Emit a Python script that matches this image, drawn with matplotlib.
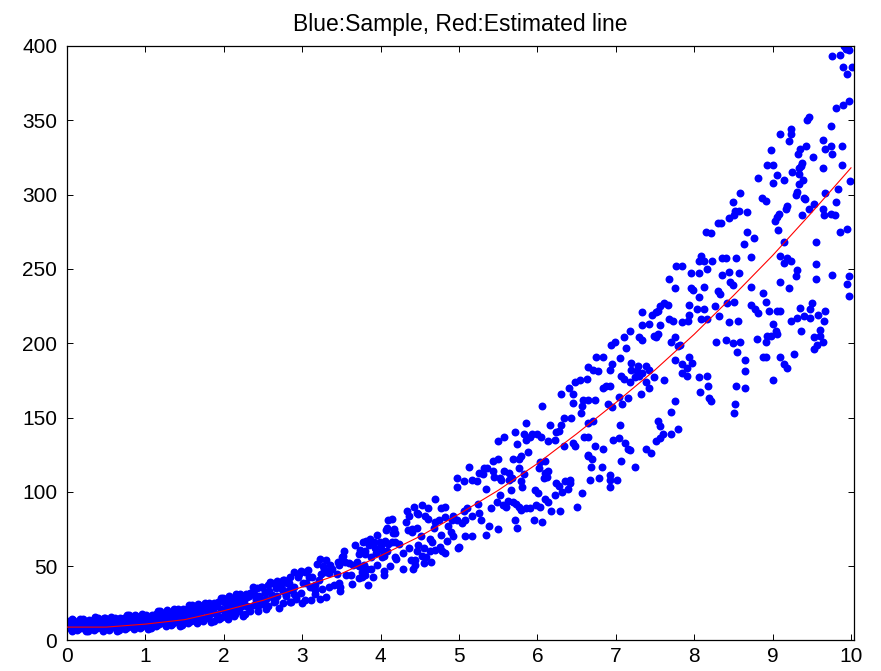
import matplotlib
matplotlib.use("Agg")
import matplotlib.pyplot as plt

# ---------------- data ----------------
# Estimated (red) line
line_x = [0, 0.5, 1, 1.5, 2, 2.5, 3, 3.5, 4, 4.5, 5, 5.5, 6, 6.5, 7, 7.5, 8, 8.5, 9, 9.5, 10]
line_y = [9, 9, 11, 14, 20, 27, 36, 45, 57, 70, 85, 101, 119, 139, 160, 182, 206, 232, 259, 288, 318]

# Samples, x 0 - 2.32 (dense band)
blob1_x = [0.00, 0.02, 0.04, 0.06, 0.08, 0.10, 0.12, 0.14, 0.16, 0.18, 0.20, 0.22, 0.24, 0.26, 0.28, 0.30,
           0.32, 0.34, 0.36, 0.38, 0.40, 0.42, 0.44, 0.46, 0.48, 0.50, 0.52, 0.54, 0.56, 0.58, 0.60, 0.62,
           0.64, 0.66, 0.68, 0.70, 0.72, 0.74, 0.76, 0.78, 0.80, 0.82, 0.84, 0.86, 0.88, 0.90, 0.92, 0.94,
           0.96, 0.98, 1.00, 1.02, 1.04, 1.06, 1.08, 1.10, 1.12, 1.14, 1.16, 1.18, 1.20, 1.22, 1.24, 1.26,
           1.28, 1.30, 1.32, 1.34, 1.36, 1.38, 1.40, 1.42, 1.44, 1.46, 1.48, 1.50, 1.52, 1.54, 1.56, 1.58,
           1.60, 1.62, 1.64, 1.66, 1.68, 1.70, 1.72, 1.74, 1.76, 1.78, 1.80, 1.82, 1.84, 1.86, 1.88, 1.90,
           1.92, 1.94, 1.96, 1.98, 2.00, 2.02, 2.04, 2.06, 2.08, 2.10, 2.12, 2.14, 2.16, 2.18, 2.20, 2.22,
           2.24, 2.26, 2.28, 2.30, 2.32]
blob1_y = [13.1, 8.8, 10.9, 6.7, 14.1, 9.7, 11.9, 7.5, 14.7, 10.7, 8.5, 13.0, 6.2, 11.7, 14.0, 9.4,
           12.6, 7.1, 15.5, 8.1, 13.7, 9.0, 11.4, 6.7, 14.8, 10.0, 12.5, 7.8, 15.6, 11.3, 8.9, 14.0,
           6.7, 12.6, 15.2, 10.3, 13.9, 8.0, 17.1, 9.0, 15.3, 10.3, 12.9, 7.8, 16.7, 11.6, 14.3, 9.1,
           17.5, 12.9, 10.3, 15.9, 8.0, 14.6, 17.4, 12.1, 16.1, 9.7, 19.7, 11.0, 17.8, 12.3, 15.4, 9.8,
           19.7, 14.0, 17.1, 11.2, 21.1, 15.7, 12.7, 19.0, 9.8, 17.5, 20.9, 14.5, 19.3, 11.6, 23.7, 13.1,
           21.5, 14.9, 18.5, 11.6, 23.7, 16.9, 20.7, 13.7, 25.4, 19.0, 15.5, 23.1, 12.1, 21.2, 25.3, 17.8,
           23.4, 14.2, 28.5, 16.0, 25.8, 18.1, 22.5, 14.7, 28.9, 21.1, 25.5, 17.5, 31.1, 24.0, 20.1, 28.8,
           16.6, 27.0, 31.6, 23.4, 29.7]

blob2_x = [0.01, 0.03, 0.05, 0.07, 0.09, 0.11, 0.13, 0.15, 0.17, 0.19, 0.21, 0.23, 0.25, 0.27, 0.29, 0.31,
           0.33, 0.35, 0.37, 0.39, 0.41, 0.43, 0.45, 0.47, 0.49, 0.51, 0.53, 0.55, 0.57, 0.59, 0.61, 0.63,
           0.65, 0.67, 0.69, 0.71, 0.73, 0.75, 0.77, 0.79, 0.81, 0.83, 0.85, 0.87, 0.89, 0.91, 0.93, 0.95,
           0.97, 0.99, 1.01, 1.03, 1.05, 1.07, 1.09, 1.11, 1.13, 1.15, 1.17, 1.19, 1.21, 1.23, 1.25, 1.27,
           1.29, 1.31, 1.33, 1.35, 1.37, 1.39, 1.41, 1.43, 1.45, 1.47, 1.49, 1.51, 1.53, 1.55, 1.57, 1.59,
           1.61, 1.63, 1.65, 1.67, 1.69, 1.71, 1.73, 1.75, 1.77, 1.79, 1.81, 1.83, 1.85, 1.87, 1.89, 1.91,
           1.93, 1.95, 1.97, 1.99, 2.01, 2.03, 2.05, 2.07, 2.09, 2.11, 2.13, 2.15, 2.17, 2.19, 2.21, 2.23,
           2.25, 2.27, 2.29, 2.31]
blob2_y = [10.1, 12.7, 7.9, 14.5, 9.3, 11.5, 7.1, 13.3, 8.5, 12.0, 14.3, 9.8, 10.8, 6.7, 12.6, 9.0,
           14.0, 7.6, 11.3, 15.4, 10.4, 13.3, 8.1, 15.3, 9.6, 12.0, 7.3, 14.1, 8.9, 12.9, 15.3, 10.5,
           11.6, 7.2, 13.8, 9.8, 15.4, 8.5, 12.6, 17.0, 11.7, 14.9, 9.3, 17.1, 11.0, 13.6, 8.5, 15.9,
           10.3, 14.6, 17.3, 12.1, 13.4, 8.7, 15.9, 11.6, 17.8, 10.3, 14.8, 19.6, 14.0, 17.5, 11.4, 20.2,
           13.4, 16.5, 10.7, 19.1, 12.6, 17.6, 20.9, 14.7, 16.1, 10.5, 19.0, 14.0, 21.4, 12.2, 17.8, 23.7,
           16.8, 21.1, 13.6, 24.3, 16.1, 19.8, 12.9, 23.2, 15.3, 21.3, 25.2, 18.0, 19.7, 12.9, 23.1, 17.1,
           25.9, 15.0, 21.5, 28.5, 20.4, 25.5, 17.0, 29.6, 20.0, 24.5, 16.6, 28.5, 19.7, 26.6, 31.1, 23.1,
           25.1, 17.9, 29.2, 22.8]

# Samples, x 2.3 - 4.9
mid1_x = [2.35, 2.38, 2.41, 2.44, 2.47, 2.50, 2.53, 2.56, 2.59, 2.62, 2.65, 2.68, 2.71, 2.74, 2.77, 2.80,
          2.83, 2.86, 2.89, 2.92, 2.95, 2.98, 3.01, 3.04, 3.07, 3.10, 3.13, 3.16, 3.19, 3.22, 3.25, 3.28,
          3.31, 3.34,
          4.69, 4.43, 4.53, 4.61, 4.34, 4.36, 4.46, 4.57, 4.10, 4.15, 4.70, 4.82,
          3.96, 4.07, 4.17, 4.19, 4.35, 4.40, 4.46, 3.81, 3.77, 3.87, 3.85, 3.99, 4.06, 4.10, 4.15, 3.93,
          4.02, 4.19, 4.28, 3.74, 3.72, 3.80, 3.94, 4.63, 4.65, 4.77, 4.85,
          3.23, 3.30, 3.53, 3.51, 3.46, 3.55, 3.65, 3.70, 4.02, 4.05, 4.08, 4.18, 4.48, 4.46, 4.53, 4.39,
          4.41, 4.58, 4.63, 4.70, 4.78, 4.55, 4.44,
          3.27, 3.34, 3.24, 3.31, 3.38, 3.47, 3.79, 3.83, 3.88, 3.90, 3.76, 3.80, 3.62, 3.72, 4.05,
          2.98, 2.96, 2.85, 3.04, 3.09, 3.05, 3.17, 3.15, 3.23, 3.11, 3.00, 3.34, 3.47, 3.48,
          2.37, 2.43, 2.49, 2.56, 2.62, 2.68, 2.75, 2.81, 2.73, 2.66, 2.58, 2.52, 2.45, 2.39, 2.33, 2.54,
          2.62, 2.68, 2.75, 2.83, 2.90, 2.79, 2.85, 2.75, 2.64, 2.53, 2.45, 2.54, 2.33, 2.41, 2.90, 2.92,
          3.17]
mid1_y = [32.2, 23.6, 28.6, 19.7, 36.1, 27.1, 32.4, 23.1, 39.3, 30.9, 26.3, 37.0, 22.0, 34.9, 40.7, 30.6,
          38.6, 26.0, 46.3, 29.0, 43.0, 32.1, 38.4, 27.1, 47.5, 36.2, 42.7, 31.1, 51.2, 40.6, 34.8, 47.8,
          29.3, 45.1,
          95, 90, 91, 89, 87, 84, 86, 84, 81, 82, 80, 83,
          71, 74, 75, 72, 74, 75, 76, 67, 66, 68, 64, 66, 67, 65, 66, 62,
          61, 66, 59, 61, 58, 58, 59, 68, 66, 71, 67,
          55, 54, 60, 56, 53, 53, 51, 53, 56, 57, 60, 56, 64, 60, 57, 54,
          48, 56, 60, 61, 60, 52, 51,
          50, 47, 45, 46, 48, 51, 51, 48, 48, 43, 46, 44, 44, 42, 47,
          47, 45, 43, 46, 43, 39, 37, 35, 28, 27, 25, 36, 39, 36,
          36, 35, 36, 37, 39, 40, 41, 39, 38, 35, 33, 32, 30, 31, 32, 28,
          29, 30, 33, 34, 36, 30, 26, 25, 26, 24, 24, 21, 20, 27, 31, 28,
          34]

# Samples, x 3.36 - 4.68 (extra layer of the band)
mid3_x = [3.36, 3.40, 3.44, 3.48, 3.52, 3.56, 3.60, 3.64, 3.68, 3.72, 3.76, 3.80, 3.84, 3.88, 3.92, 3.96,
          4.00, 4.04, 4.08, 4.12, 4.16, 4.20, 4.24, 4.28, 4.32, 4.36, 4.40, 4.44, 4.48, 4.52, 4.56, 4.60,
          4.64, 4.68]
mid3_y = [51, 37, 45, 33, 57, 44, 52, 38, 64, 50, 43, 60, 37, 56, 66, 51,
          64, 44, 76, 50, 72, 55, 65, 48, 80, 62, 73, 54, 85, 70, 62, 82,
          53, 76]

# Samples, x 4.7 - 6.7
mid2_x = [6.48, 6.54, 6.30, 6.40, 6.46, 6.46, 6.58, 6.57, 6.06, 6.63,
          6.34, 6.43, 6.55, 5.85, 6.16, 6.30, 6.27, 6.24, 5.57, 5.71, 5.83, 5.86, 5.90, 5.93, 6.00, 6.04,
          6.13, 6.22, 5.74, 5.50,
          5.88, 6.34, 6.46, 6.48, 6.60, 6.64,
          5.13, 5.32, 5.43, 5.50, 5.69, 5.77, 5.79, 5.36, 5.43, 5.45, 5.31, 5.25, 5.52, 5.57, 5.64, 5.77,
          5.83, 6.02, 6.03, 6.10, 6.10, 6.14, 6.09, 6.12, 6.64,
          4.97, 5.06, 5.16, 5.23, 4.97, 5.35, 5.54, 5.64, 5.68, 5.79, 5.81, 5.66,
          6.24, 6.35, 6.41, 6.41, 6.27, 6.39, 6.32, 6.57, 6.22, 6.10, 6.13, 6.01, 5.97, 5.98, 6.03, 6.18,
          6.29, 6.50,
          5.52, 5.62, 5.69, 5.73, 5.77, 5.79, 5.86, 5.90, 5.49, 5.56, 5.60, 5.41, 5.24, 5.25, 5.10, 5.06,
          4.93, 4.82, 4.77, 4.74,
          5.16, 5.28, 5.38, 5.50, 5.72, 5.74, 5.96, 6.06,
          4.86, 4.91, 4.97, 5.04, 5.08, 4.90, 4.93, 5.08, 5.16, 5.34, 5.00, 4.99, 4.82, 4.76]
mid2_y = [174, 175, 166, 170, 166, 160, 162, 158, 158, 176,
          150, 150, 153, 146, 145, 145, 141, 140, 137, 140, 139, 135, 137, 139, 139, 137,
          134, 135, 132, 134,
          127, 131, 133, 131, 137, 137,
          117, 116, 121, 122, 122, 122, 124, 116, 114, 110, 112, 113, 109, 114, 113, 116,
          112, 116, 120, 121, 113, 114, 109, 110, 125,
          109, 107, 108, 107, 103, 102, 108, 108, 109, 107, 103, 101,
          106, 107, 108, 106, 104, 102, 100, 99, 98, 95, 93, 99, 101, 91, 90, 87,
          87, 90,
          98, 94, 93, 92, 90, 88, 89, 89, 93, 91, 90, 89, 92, 86, 89, 87,
          84, 90, 89, 81,
          84, 81, 77, 75, 81, 76, 81, 80,
          77, 81, 81, 79, 81, 73, 70, 70, 70, 71, 63, 62, 59, 63]

# Samples, x 6.6 - 8.0
hi1_x = [7.77, 7.84, 7.96, 7.68, 7.75, 7.96, 7.99,
         7.61, 7.66, 7.57, 7.94, 7.33, 7.46, 7.51, 7.54, 7.94, 7.68, 7.73, 7.84, 7.92,
         7.18, 7.10, 7.34, 7.43, 7.57, 7.49, 7.54, 7.51, 7.30, 7.33, 7.71, 7.76, 7.82, 7.79,
         6.99, 6.94, 7.13, 6.75, 6.84, 7.06, 7.76, 7.94, 7.97, 7.85, 7.91, 7.84, 7.91,
         6.65, 6.71, 6.77, 6.95, 6.93, 7.20, 7.28, 7.19, 7.27, 7.39, 7.43, 7.34, 7.25, 7.29, 7.07, 7.11,
         7.49, 7.61, 7.18, 7.38, 7.42, 6.84, 6.88, 6.93,
         7.32, 7.04, 7.15, 7.08, 6.90, 6.95, 6.65, 6.73, 7.75, 7.71,
         6.71, 6.65, 7.06, 7.54, 7.57, 7.79, 7.71, 7.60, 7.56, 7.51, 6.96, 7.04, 7.12, 7.15, 7.18, 6.73,
         6.84, 7.39, 7.45,
         6.65, 6.70, 7.07, 7.24, 6.82, 6.69, 6.92, 6.92, 7.01, 6.78, 6.67, 6.92]
hi1_y = [252, 252, 247, 243, 237, 237, 236,
         227, 226, 225, 226, 221, 219, 221, 222, 219, 216, 215, 214, 215,
         208, 204, 212, 213, 212, 205, 206, 204, 204, 202, 201, 204, 199, 198,
         201, 199, 197, 191, 191, 190, 189, 191, 187, 186, 183, 180, 178,
         184, 182, 181, 186, 182, 187, 185, 182, 181, 185, 182, 180, 177, 178, 178, 176,
         177, 175, 174, 174, 170, 170, 171, 171,
         166, 164, 163, 159, 159, 157, 162, 162, 161, 154,
         148, 146, 145, 148, 144, 142, 139, 139, 136, 134, 135, 136, 133, 129, 128, 131,
         129, 129, 126,
         124, 122, 121, 117, 117, 117, 111, 108, 108, 109, 108, 103]

# Samples, x 8.0 - 10
hi2_x = [9.91, 9.93, 9.97, 9.86, 9.76, 9.90, 10.01, 9.95,
         9.98, 9.90, 9.81,
         9.46, 9.44, 9.74,
         9.09, 9.23, 9.23, 9.21, 9.64, 8.98, 9.35, 9.42, 9.67, 9.74, 9.88, 9.32, 9.51, 9.76,
         9.38, 9.36, 9.34, 9.00, 8.93, 9.05, 9.25, 9.34, 9.64, 9.88,
         8.81, 9.14, 9.00, 9.39, 9.34, 9.99, 9.83,
         9.31, 9.30, 9.40, 9.41, 8.86, 8.92, 8.59, 8.49, 8.57, 8.52, 8.67, 8.45, 8.51, 9.67,
         9.53, 9.46, 9.19, 9.17, 9.08, 9.06, 9.03, 9.37, 9.64, 9.74, 9.80, 9.81, 9.65,
         8.30, 8.34, 8.15, 8.21, 8.67, 9.07, 9.86, 9.95,
         8.76, 8.63, 9.14, 9.55,
         8.09, 8.06, 8.13, 8.23, 8.35, 8.40, 8.53, 8.72, 9.09, 9.19, 9.24, 9.14, 9.55,
         8.16, 8.06, 8.35, 8.45, 8.57, 9.31, 9.30, 9.76, 9.97, 9.95, 9.55,
         8.12, 8.46, 8.49, 8.72, 9.09, 9.21, 8.88, 8.31, 8.33, 8.06, 9.97,
         8.42, 8.51, 8.72, 8.91, 8.78, 8.81, 8.95, 9.05, 9.09, 9.35, 9.50, 9.48, 9.67,
         8.12, 8.04, 8.26, 8.32, 8.09, 8.16, 8.45, 8.56, 9.23, 9.31, 9.40, 9.48, 9.58, 9.65,
         9.00, 9.60, 9.36,
         8.28, 8.40, 8.49, 8.59, 8.80, 8.91, 8.93, 8.98, 9.05, 9.04, 9.53, 9.60, 9.64, 9.57, 9.53,
         8.54, 9.27, 8.88, 8.91, 9.09, 8.65, 9.14, 9.19,
         8.06, 8.16, 8.65, 8.17, 8.53, 8.65, 9.00,
         8.08, 8.19, 8.21, 8.52, 8.51]
hi2_y = [400, 398, 397, 394, 393, 386, 386, 381,
         363, 360, 358,
         352, 350, 346,
         341, 344, 341, 336, 337, 330, 331, 333, 331, 333, 333, 327, 325, 327,
         321, 319, 318, 320, 320, 313, 315, 314, 318, 320,
         311, 310, 308, 310, 307, 309, 304,
         302, 300, 298, 297, 298, 296, 301, 295, 289, 289, 288, 284, 286, 301,
         294, 290, 292, 290, 287, 285, 282, 286, 290, 287, 286, 295, 286,
         281, 281, 275, 274, 275, 276, 275, 277,
         271, 267, 268, 268,
         259, 255, 255, 255, 257, 257, 257, 258, 259, 257, 255, 254, 253,
         250, 247, 246, 248, 247, 249, 245, 246, 245, 240, 243,
         238, 241, 239, 238, 241, 237, 234, 235, 233, 231, 232,
         227, 228, 226, 228, 223, 220, 222, 222, 222, 224, 227, 223, 222,
         223, 223, 225, 218, 216, 216, 214, 215, 215, 217, 218, 217, 219, 215,
         213, 209, 208,
         201, 202, 200, 201, 203, 201, 205, 205, 206, 208, 204, 205, 201, 199, 196,
         194, 193, 191, 191, 191, 189, 186, 183,
         177, 178, 181, 171, 171, 170, 175,
         167, 163, 161, 159, 153]

title_text = "Blue:Sample, Red:Estimated line"
x_ticks = list(range(0, 11))
y_ticks = list(range(0, 401, 50))

# ---------------- figure ----------------
plt.rcParams['font.family'] = ['Liberation Sans', 'DejaVu Sans']
fig = plt.figure(figsize=(8.81, 6.71), dpi=100)
ax = fig.add_axes([0.076, 0.0455, 0.8935, 0.886])

sample_x = blob1_x + blob2_x + mid1_x + mid3_x + mid2_x + hi1_x + hi2_x
sample_y = blob1_y + blob2_y + mid1_y + mid3_y + mid2_y + hi1_y + hi2_y

ax.plot(sample_x, sample_y, linestyle='none', marker='o', markersize=5.7,
        markerfacecolor=(0, 0, 1), markeredgewidth=0, clip_on=True, zorder=2)
ax.plot(line_x, line_y, color=(1, 0, 0), linewidth=0.8, zorder=3)

ax.set_xlim(0, 10.04)
ax.set_ylim(0, 400)
ax.set_xticks(x_ticks)
ax.set_yticks(y_ticks)
ax.set_xticklabels([str(v) for v in x_ticks])
ax.set_yticklabels([str(v) for v in y_ticks])
ax.tick_params(direction='in', top=True, right=True, length=4, width=0.7,
               labelsize=15, colors='black')
ax.tick_params(axis='x', pad=5)
ax.tick_params(axis='y', pad=7)
for sp in ax.spines.values():
    sp.set_linewidth(0.9)
    sp.set_color('black')

ax.set_title(title_text, fontsize=16.5, pad=11)

fig.savefig("out.png", dpi=100)
